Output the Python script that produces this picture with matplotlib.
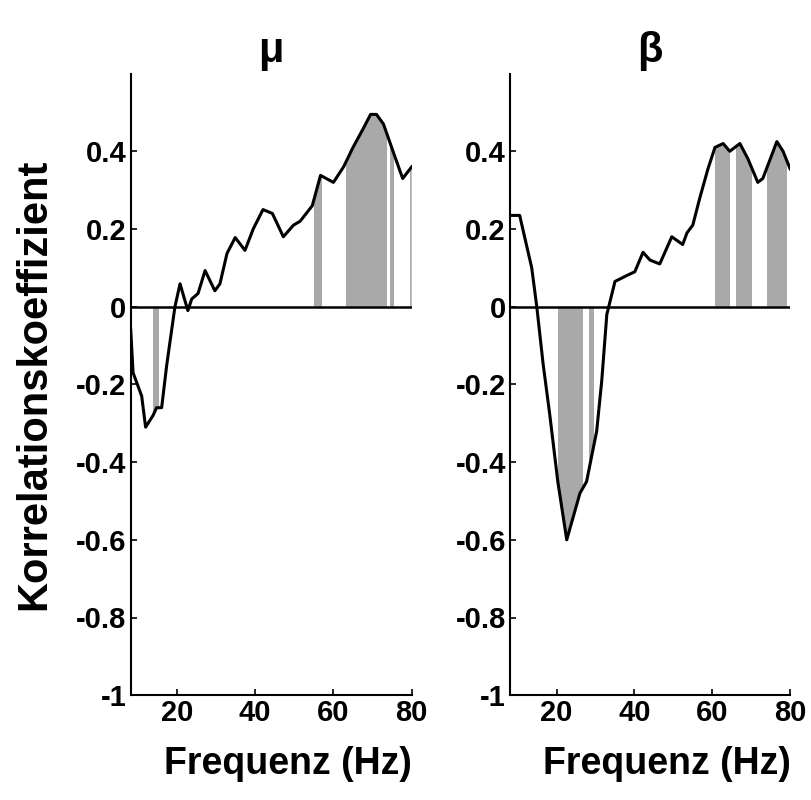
import numpy as np
import matplotlib
matplotlib.use('Agg')
from matplotlib import pyplot as plt

plt.rcParams['font.family'] = ['Liberation Sans', 'DejaVu Sans']
plt.rcParams['font.weight'] = 'bold'

# mu panel: frequency (Hz) and correlation coefficient
mu_freq = [8.2, 8.8, 11.0, 12.0, 13.9, 14.8, 16.1, 17.4, 19.5, 20.8, 22.8, 23.8, 25.4, 27.2,
           29.7, 31.0, 32.8, 34.9, 37.4, 39.5, 42.0, 44.4, 47.2, 49.8, 51.5, 54.6, 56.7,
           60.0, 62.6, 65.0, 67.7, 69.5, 71.0, 72.8, 75.4, 77.7, 80.0]
mu_r = [-0.06, -0.17, -0.23, -0.31, -0.28, -0.26, -0.26, -0.15, 0.0, 0.059, -0.01, 0.02, 0.034,
        0.093, 0.041, 0.059, 0.137, 0.178, 0.145, 0.20, 0.25, 0.24, 0.18, 0.21, 0.22, 0.26,
        0.338, 0.32, 0.36, 0.41, 0.46, 0.495, 0.495, 0.47, 0.395, 0.33, 0.36]
mu_bands = [(13.9, 15.4), (55.1, 57.2), (63.3, 73.8), (74.4, 75.6), (79.6, 80.0)]

# beta panel
beta_freq = [8.0, 10.5, 13.6, 14.9, 16.5, 18.2, 20.3, 22.6, 26.0, 27.7, 30.3, 31.6, 32.9, 35.0,
             38.0, 40.1, 42.2, 44.0, 46.5, 49.6, 52.4, 53.5, 55.0, 56.8, 58.9, 60.7, 62.8,
             64.5, 67.1, 69.2, 71.7, 73.0, 76.6, 78.2, 80.0]
beta_r = [0.235, 0.235, 0.10, 0.0, -0.145, -0.275, -0.45, -0.60, -0.48, -0.45, -0.32, -0.19,
          -0.02, 0.065, 0.08, 0.09, 0.14, 0.12, 0.11, 0.18, 0.16, 0.19, 0.21, 0.28, 0.355,
          0.41, 0.42, 0.40, 0.42, 0.38, 0.32, 0.33, 0.425, 0.40, 0.355]
beta_bands = [(20.3, 26.7), (28.3, 29.6), (60.7, 64.5), (66.0, 70.2), (74.0, 79.2)]

titles = ['\u03bc', '\u03b2']
yticks = [-1, -0.8, -0.6, -0.4, -0.2, 0, 0.2, 0.4]
yticklabels = ['-1', '-0.8', '-0.6', '-0.4', '-0.2', '0', '0.2', '0.4']
xticks = [20, 40, 60, 80]

fig = plt.figure(figsize=(8.12, 8.0), dpi=100)
ax1 = fig.add_axes([0.161, 0.131, 0.346, 0.777])
ax2 = fig.add_axes([0.628, 0.131, 0.345, 0.777])

for ax, f, r, bands, title in [(ax1, mu_freq, mu_r, mu_bands, titles[0]),
                               (ax2, beta_freq, beta_r, beta_bands, titles[1])]:
    area = ax.fill_between(f, r, 0, facecolor='none', edgecolor='none')
    clip = area.get_paths()[0]
    for lo, hi in bands:
        span = ax.axvspan(lo, hi, facecolor='#a9a9a9', edgecolor='none', zorder=1)
        span.set_clip_path(clip, ax.transData)
    ax.plot(f, r, color='black', lw=2.2, zorder=3)
    ax.axhline(0, color='black', lw=1.8, zorder=2)
    ax.set_xlim(f[0], 80)
    ax.set_ylim(-1, 0.6)
    ax.set_yticks(yticks)
    ax.set_yticklabels(yticklabels)
    ax.set_xticks(xticks)
    ax.spines['top'].set_visible(False)
    ax.spines['right'].set_visible(False)
    ax.spines['left'].set_linewidth(1.5)
    ax.spines['bottom'].set_linewidth(1.5)
    ax.tick_params(direction='in', length=4, width=1.2, labelsize=21, pad=3)
    ax.set_xlabel('Frequenz (Hz)', fontsize=27, fontweight='bold')
    ax.xaxis.set_label_coords(0.56, -0.082)
    ax.set_title(title, fontsize=30, fontweight='bold', pad=8)

ax1.set_ylabel('Korrelationskoeffizient', fontsize=30, fontweight='bold', labelpad=16)

fig.savefig('out.png', dpi=100)
